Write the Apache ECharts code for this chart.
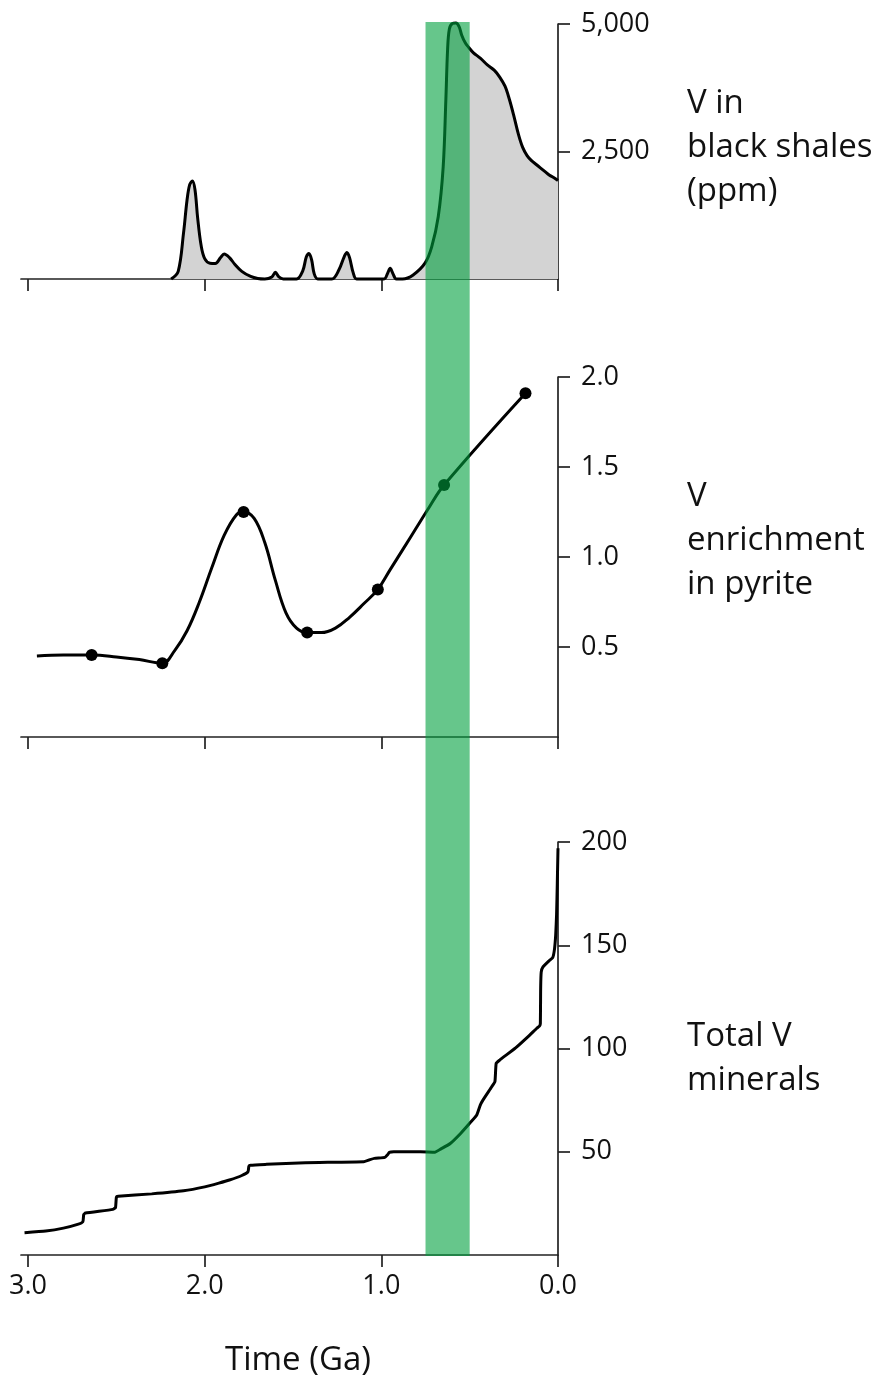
<!DOCTYPE html>
<html>
<head>
<meta charset="utf-8">
<script src="https://cdn.jsdelivr.net/npm/echarts@6/dist/echarts.min.js"></script>
<style>
  html, body { margin: 0; padding: 0; background: #ffffff; }
  #chart { width: 878px; height: 1382px; }
</style>
</head>
<body>
<div id="chart"></div>
<script>
// ---------- data ----------
const timeTicks = [3, 2, 1, 0];            // Ga
const shaleTicks = [2500, 5000];
const pyriteTicks = [0.5, 1.0, 1.5, 2.0];
const mineralTicks = [50, 100, 150, 200];
const greenBand = [0.75, 0.5];            // Ga, highlighted interval

// V in black shales (ppm): [Ga, ppm]
const shaleV = [
  [2.19, 0], [2.15, 150], [2.12, 900], [2.10, 1550], [2.085, 1850], [2.07, 1920],
  [2.055, 1750], [2.04, 1200], [2.02, 650], [2.00, 400], [1.97, 310], [1.94, 305],
  [1.91, 420], [1.89, 490], [1.86, 420], [1.83, 290], [1.79, 150], [1.74, 50],
  [1.70, 10], [1.66, 0], [1.62, 40], [1.60, 130], [1.58, 40], [1.555, 0],
  [1.48, 0], [1.445, 160], [1.425, 430], [1.41, 500], [1.395, 380], [1.38, 100], [1.36, 0],
  [1.28, 0], [1.24, 180], [1.21, 440], [1.195, 520], [1.18, 420], [1.16, 130], [1.14, 0],
  [0.985, 0], [0.965, 110], [0.95, 210], [0.935, 110], [0.915, 0],
  [0.88, 0], [0.82, 80], [0.753, 310], [0.715, 630], [0.678, 1220], [0.65, 2200],
  [0.635, 3500], [0.625, 4500], [0.615, 4900], [0.598, 5010], [0.578, 5020],
  [0.56, 4950], [0.545, 4780], [0.525, 4630], [0.505, 4540], [0.48, 4440],
  [0.44, 4330], [0.40, 4200], [0.36, 4090], [0.33, 3960], [0.30, 3780],
  [0.275, 3520], [0.25, 3200], [0.225, 2850], [0.20, 2580], [0.175, 2420],
  [0.15, 2320], [0.125, 2250], [0.10, 2180], [0.075, 2110], [0.05, 2040], [0.025, 1990], [0, 1930]
];

// V enrichment in pyrite: curve [Ga, value]
const pyriteCurve = [
  [2.95, 0.45], [2.80, 0.455], [2.64, 0.455], [2.50, 0.445], [2.37, 0.43], [2.24, 0.41],
  [2.17, 0.48], [2.10, 0.59], [2.03, 0.75], [1.96, 0.94], [1.89, 1.12], [1.82, 1.235],
  [1.78, 1.25], [1.72, 1.215], [1.66, 1.08], [1.60, 0.87], [1.54, 0.69], [1.48, 0.605],
  [1.42, 0.58], [1.34, 0.58], [1.26, 0.605], [1.18, 0.665], [1.10, 0.74], [1.02, 0.82],
  [0.95, 0.93], [0.87, 1.055], [0.80, 1.165], [0.73, 1.275], [0.645, 1.40],
  [0.184, 1.91]
];
// measured points (dots)
const pyriteDots = [
  [2.64, 0.455], [2.24, 0.41], [1.78, 1.25], [1.42, 0.58], [1.02, 0.82], [0.645, 1.40], [0.184, 1.91]
];

// Total V minerals: [Ga, count]
const minerals = [
  [3.02, 10.8], [2.90, 11.6], [2.80, 13.0], [2.72, 14.8], [2.69, 16.1], [2.685, 19.5],
  [2.675, 20.3], [2.52, 22.1], [2.505, 23], [2.50, 28.0], [2.49, 28.4], [2.30, 29.6],
  [2.12, 31.1], [2.00, 33.0], [1.92, 34.8], [1.86, 36.3], [1.79, 38.5], [1.755, 40.3],
  [1.75, 43.0], [1.74, 43.5], [1.65, 43.9], [1.43, 44.7], [1.10, 45.2], [1.07, 46.0],
  [1.04, 46.8], [0.98, 47.3], [0.965, 48.5], [0.955, 49.7], [0.93, 50.0], [0.78, 50.0],
  [0.697, 49.8], [0.66, 51.5], [0.61, 54], [0.55, 59], [0.50, 63.8], [0.46, 67.8],
  [0.44, 72.6], [0.425, 75], [0.375, 81.5], [0.357, 84], [0.35, 92.8], [0.33, 94.4],
  [0.24, 100.3], [0.16, 106.5], [0.12, 109.8], [0.105, 110.8], [0.10, 112],
  [0.098, 130], [0.095, 137], [0.085, 139.5], [0.05, 142.5], [0.03, 144], [0.02, 148],
  [0.013, 155], [0.008, 165], [0.004, 180], [0.0, 197]
];

// ---------- layout ----------
const FONT = '"Open Sans", "Noto Sans", sans-serif';
const INK = '#111111';
const AX = '#222222';
const GL = 21, GR = 320;
const grids = [
  { left: GL, right: GR, top: 24, height: 255 },
  { left: GL, right: GR, top: 377, height: 360 },
  { left: GL, right: GR, top: 842, height: 413 },
  { left: GL, right: GR, top: 22, height: 1234 }
];

function xAxisFor(i, showLabels) {
  return {
    type: 'value', gridIndex: i, min: 0, max: 3.04, inverse: true,
    axisLine: { show: true, onZero: false, lineStyle: { color: AX, width: 1.7 } },
    axisTick: { show: true, inside: false, length: 12, customValues: timeTicks, lineStyle: { color: AX, width: 1.7 } },
    axisLabel: {
      show: showLabels, customValues: timeTicks, margin: 18,
      formatter: v => Number(v).toFixed(1),
      color: INK, fontSize: 27, fontFamily: FONT
    },
    splitLine: { show: false }
  };
}
function yAxisFor(i, max, ticks, fmt) {
  return {
    type: 'value', gridIndex: i, min: 0, max: max, position: 'right',
    axisLine: { show: true, onZero: false, lineStyle: { color: AX, width: 1.7 } },
    axisTick: { show: true, inside: false, length: 12, customValues: ticks, lineStyle: { color: AX, width: 1.7 } },
    axisLabel: { show: true, customValues: ticks, margin: 23, formatter: fmt, color: INK, fontSize: 27, fontFamily: FONT },
    splitLine: { show: false }
  };
}

function textEl(str, x, y, size, align) {
  return {
    type: 'text', x: x, y: y, silent: true,
    style: { text: str, fontSize: size, fontFamily: FONT, fill: INK, align: align || 'left', verticalAlign: 'middle' }
  };
}

const option = {
  animation: false,
  backgroundColor: '#ffffff',
  grid: grids,
  xAxis: [
    xAxisFor(0, false), xAxisFor(1, false), xAxisFor(2, true),
    { type: 'value', gridIndex: 3, min: 0, max: 3.04, inverse: true, show: false }
  ],
  yAxis: [
    yAxisFor(0, 5000, shaleTicks, v => Number(v).toLocaleString('en-US')),
    yAxisFor(1, 2, pyriteTicks, v => Number(v).toFixed(1)),
    yAxisFor(2, 200, mineralTicks, v => String(v)),
    { type: 'value', gridIndex: 3, min: 0, max: 1, show: false }
  ],
  series: [
    {
      type: 'line', xAxisIndex: 0, yAxisIndex: 0, data: shaleV, smooth: 0.35,
      showSymbol: false, clip: false, z: 3,
      lineStyle: { color: '#000', width: 3 },
      areaStyle: { color: '#d3d3d3', opacity: 1, origin: 'start' }
    },
    {
      type: 'line', xAxisIndex: 1, yAxisIndex: 1, data: pyriteCurve, smooth: 0.4,
      showSymbol: false, clip: false, z: 3,
      lineStyle: { color: '#000', width: 3 }
    },
    {
      type: 'scatter', xAxisIndex: 1, yAxisIndex: 1, data: pyriteDots,
      symbol: 'circle', symbolSize: 12, itemStyle: { color: '#000', opacity: 1 }, z: 4
    },
    {
      type: 'line', xAxisIndex: 2, yAxisIndex: 2, data: minerals, smooth: 0.15,
      showSymbol: false, clip: false, z: 3,
      lineStyle: { color: '#000', width: 3 }
    },
    {
      type: 'custom', xAxisIndex: 3, yAxisIndex: 3, z: 10, silent: true,
      data: [greenBand],
      renderItem: function (params, api) {
        const a = api.coord([api.value(0), 1]);
        const b = api.coord([api.value(1), 0]);
        return {
          type: 'rect',
          shape: { x: Math.min(a[0], b[0]), y: Math.min(a[1], b[1]), width: Math.abs(b[0] - a[0]), height: Math.abs(b[1] - a[1]) },
          style: { fill: 'rgba(0,160,62,0.6)' }
        };
      }
    }
  ],
  graphic: [
    textEl('V in', 687, 104, 33),
    textEl('black shales', 687, 148, 33),
    textEl('(ppm)', 687, 192, 33),
    textEl('V', 687, 497, 33),
    textEl('enrichment', 687, 541, 33),
    textEl('in pyrite', 687, 585, 33),
    textEl('Total V', 687, 1037, 33),
    textEl('minerals', 687, 1081, 33),
    textEl('Time (Ga)', 298, 1361, 33, 'center')
  ]
};

const chart = echarts.init(document.getElementById('chart'), null, { renderer: 'canvas' });
chart.setOption(option);
</script>
</body>
</html>
